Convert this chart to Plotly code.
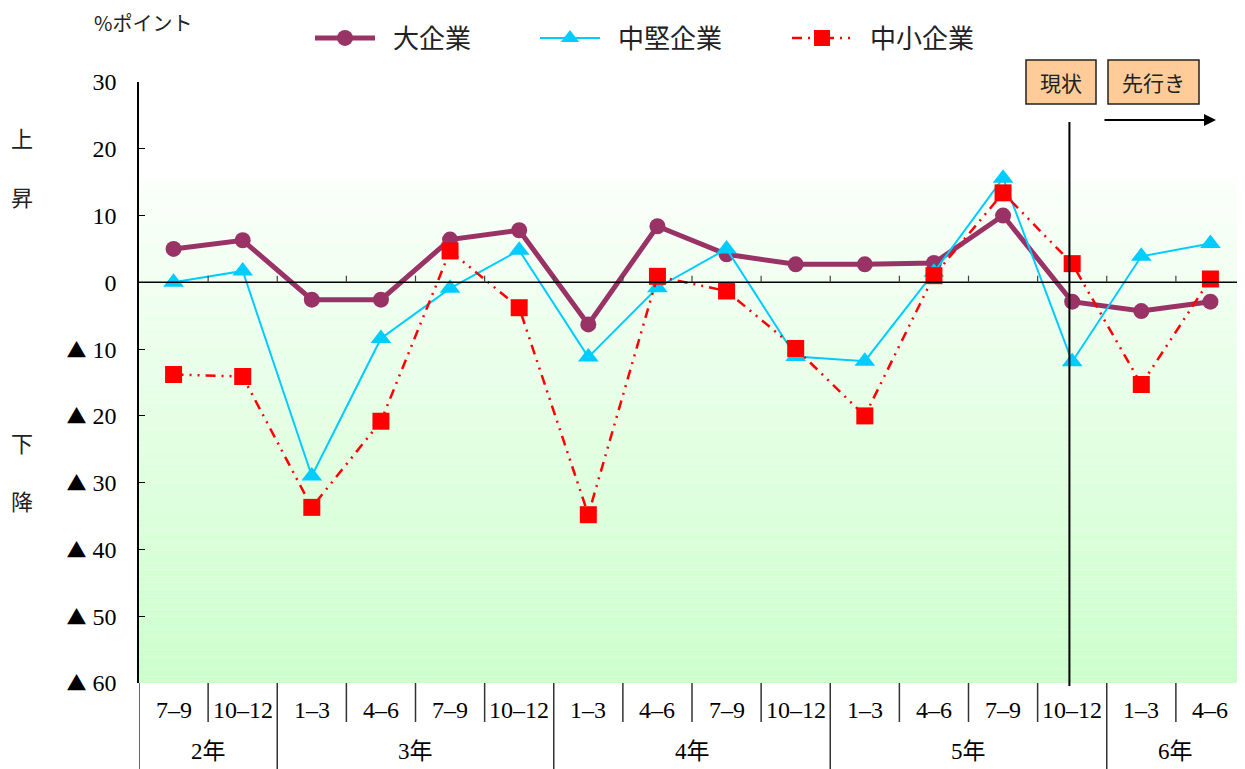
import plotly.graph_objects as go

quarters = ["7–9", "10–12", "1–3", "4–6", "7–9", "10–12", "1–3", "4–6",
            "7–9", "10–12", "1–3", "4–6", "7–9", "10–12", "1–3", "4–6"]
years = ["2年", "3年", "4年", "5年", "6年"]
year_span = [(0, 1), (2, 5), (6, 9), (10, 13), (14, 15)]

large = [5.0, 6.3, -2.6, -2.6, 6.4, 7.8, -6.3, 8.4, 4.2, 2.7, 2.7, 2.9, 10.0, -2.9, -4.3, -2.9]
mid = [0.0, 1.7, -29.0, -8.4, -0.9, 4.8, -11.2, -0.8, 5.0, -11.1, -11.8, 1.5, 15.6, -11.9, 3.9, 5.8]
small = [-13.8, -14.1, -33.7, -20.8, 4.7, -3.8, -34.8, 0.9, -1.3, -9.9, -20.0, 1.0, 13.4, 2.8, -15.3, 0.5]

ytick_vals = [30, 20, 10, 0, -10, -20, -30, -40, -50, -60]
ytick_nums = ["30", "20", "10", "0", "10", "20", "30", "40", "50", "60"]

x = list(range(len(quarters)))
JP = "Noto Sans CJK JP"
SERIF = "Liberation Serif"

TRI = "<span style='font-family:Noto Sans CJK JP;font-size:20px'>▲</span> "
ytick_text = [(TRI + n) if v < 0 else n for v, n in zip(ytick_vals, ytick_nums)]

# plot area in screenshot pixels: x 139..1245, y 82..683 (page has 8px body margin)
PL, PW, PT, PH = 139, 1106, 82, 601


def px(v):
    return (v - PL) / PW


def py(v):
    return (PT + PH - v) / PH


fig = go.Figure()
fig.add_trace(go.Scatter(
    x=x, y=large, name="\u2002大企業", mode="lines+markers",
    line=dict(color="#993366", width=5),
    marker=dict(symbol="circle", size=16, color="#993366"),
    legend="legend"))
fig.add_trace(go.Scatter(
    x=x, y=mid, name="\u2002中堅企業", mode="lines+markers",
    line=dict(color="#00CCFF", width=2),
    marker=dict(symbol="triangle-up", size=18, color="#00CCFF"),
    legend="legend2"))
fig.add_trace(go.Scatter(
    x=x, y=small, name="\u2002中小企業", mode="lines+markers",
    line=dict(color="#FF0000", width=2.5, dash="10px,6px,2px,6px,2px,6px"),
    marker=dict(symbol="square", size=17, color="#FF0000"),
    legend="legend3"))

shapes = []
# gradient background
N = 75
top, bot = 15.0, -60.0
c0 = (250, 255, 250)
c1 = (204, 255, 204)
for i in range(N):
    t = (i + 0.5) / N
    col = tuple(round(c0[k] + (c1[k] - c0[k]) * t) for k in range(3))
    ya = top + (bot - top) * i / N
    yb = top + (bot - top) * (i + 1) / N
    shapes.append(dict(type="rect", xref="paper", yref="y", x0=0, x1=1, y0=ya, y1=yb,
                       fillcolor="rgb(%d,%d,%d)" % col, line=dict(width=0), layer="below"))
# zero line
shapes.append(dict(type="line", xref="paper", yref="y", x0=0, x1=1, y0=0, y1=0,
                   line=dict(color="black", width=1.5)))
# ticks on zero line
for k in range(len(quarters) - 1):
    shapes.append(dict(type="line", xref="x", yref="y", x0=k + 0.5, x1=k + 0.5, y0=0, y1=1.0,
                       line=dict(color="#444", width=1.2)))
# table dividers
year_bounds = [s[0] - 0.5 for s in year_span] + [15.5]
for k in range(len(quarters) + 1):
    xb = k - 0.5
    full = xb in year_bounds
    shapes.append(dict(type="line", xref="x", yref="paper", x0=xb, x1=xb, y0=0,
                       y1=py(769) if full else py(722),
                       line=dict(color="#333", width=1.5)))
# vertical 現状 line
shapes.append(dict(type="line", xref="x", yref="paper", x0=12.96, x1=12.96, y0=py(686), y1=py(122),
                   line=dict(color="black", width=2)))
# boxes
shapes.append(dict(type="rect", xref="paper", yref="paper", x0=px(1026), x1=px(1096), y0=py(104), y1=py(60),
                   fillcolor="#FFCC99", line=dict(color="#222", width=1.5)))
shapes.append(dict(type="rect", xref="paper", yref="paper", x0=px(1108), x1=px(1199), y0=py(104), y1=py(60),
                   fillcolor="#FFCC99", line=dict(color="#222", width=1.5)))

annotations = []
for k, q in enumerate(quarters):
    annotations.append(dict(x=k, y=py(710), xref="x", yref="paper", text=q, showarrow=False,
                            yanchor="middle", xanchor="center",
                            font=dict(family=SERIF, size=24, color="black")))
for name, (a, b) in zip(years, year_span):
    annotations.append(dict(x=(a + b) / 2, y=py(752), xref="x", yref="paper", text=name, showarrow=False,
                            yanchor="middle", xanchor="center",
                            font=dict(family=SERIF + ", " + JP, size=23, color="black")))
annotations.append(dict(x=px(1061), y=py(82), xref="paper", yref="paper", text="現状", showarrow=False,
                        xanchor="center", yanchor="middle",
                        font=dict(family=JP, size=21, color="#222")))
annotations.append(dict(x=px(1153.5), y=py(82), xref="paper", yref="paper", text="先行き", showarrow=False,
                        xanchor="center", yanchor="middle",
                        font=dict(family=JP, size=21, color="#222")))
annotations.append(dict(x=px(1216), y=py(120), xref="paper", yref="paper", ax=-113, ay=0,
                        text="", showarrow=True,
                        arrowhead=2, arrowsize=1.2, arrowwidth=2, arrowcolor="black"))
annotations.append(dict(x=px(92), y=py(22), xref="paper", yref="paper",
                        text="%ポイント", showarrow=False, xanchor="left", yanchor="middle",
                        font=dict(family=JP, size=20, color="#222")))
for ch, yy in [("上", 137), ("昇", 196), ("下", 442), ("降", 500)]:
    annotations.append(dict(x=px(22), y=py(yy), xref="paper", yref="paper",
                            text=ch, showarrow=False, xanchor="center", yanchor="middle",
                            font=dict(family=JP, size=22, color="#222")))

leg_common = dict(orientation="h", yanchor="middle", xanchor="left", bgcolor="rgba(0,0,0,0)",
                  font=dict(family=JP, size=26, color="#222"), itemwidth=60)
fig.update_layout(
    width=1237, height=761,
    margin=dict(l=131, r=0, t=74, b=86),
    paper_bgcolor="white", plot_bgcolor="white",
    showlegend=True,
    legend=dict(leg_common, x=px(310), y=py(38)),
    legend2=dict(leg_common, x=px(535), y=py(38)),
    legend3=dict(leg_common, x=px(787), y=py(38)),
    xaxis=dict(range=[-0.5, 15.5], showticklabels=False, showgrid=False, zeroline=False,
               showline=False, ticks=""),
    yaxis=dict(range=[-60, 30], tickvals=ytick_vals, ticktext=ytick_text, showgrid=False,
               zeroline=False, showline=True, linecolor="black", linewidth=1.5,
               ticks="inside", ticklen=6, tickcolor="black", ticklabelstandoff=16,
               tickfont=dict(family=SERIF, size=24, color="black")),
    shapes=shapes, annotations=annotations,
)
fig.write_html("out.html")
